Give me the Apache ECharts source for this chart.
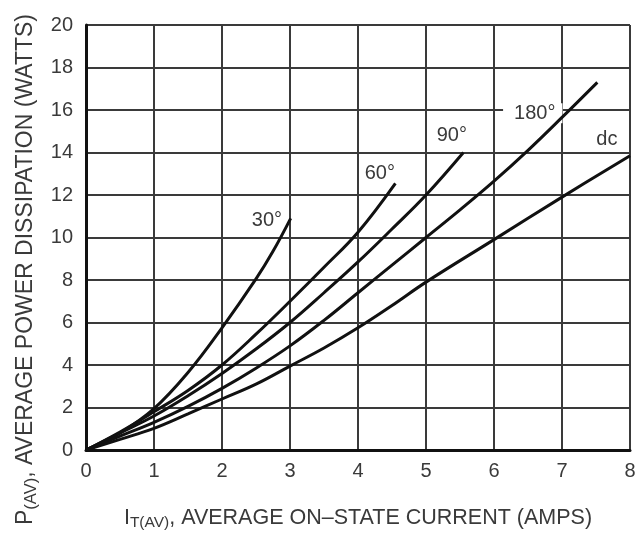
<!DOCTYPE html>
<html>
<head>
<meta charset="utf-8">
<script src="https://cdn.jsdelivr.net/npm/echarts@6/dist/echarts.min.js"></script>
<style>html,body{margin:0;padding:0;background:#fff}#c{width:637px;height:540px}</style>
</head>
<body>
<div id="c"></div>
<script>
// ---- data ----
const xTickLabels = ['0','1','2','3','4','5','6','7','8'];
const yTickLabels = ['0','2','4','6','8','10','12','14','16','18','20'];

const seriesNames = ['30°','60°','90°','180°','dc'];

const i30  = [0, 0.5, 1, 1.5, 2, 2.5, 2.75, 3.01];
const p30  = [0, 0.8, 1.95, 3.65, 5.75, 8.05, 9.35, 10.9];

const i60  = [0, 0.5, 1, 1.5, 2, 2.5, 3, 3.5, 4, 4.55];
const p60  = [0, 0.85, 1.8, 2.8, 4.0, 5.45, 7.0, 8.6, 10.25, 12.55];

const i90  = [0, 0.5, 1, 1.5, 2, 2.5, 3, 3.5, 4, 4.5, 5, 5.55];
const p90  = [0, 0.8, 1.6, 2.55, 3.6, 4.75, 6.0, 7.4, 8.85, 10.4, 12.0, 14.0];

const i180 = [0, 0.5, 1, 1.5, 2, 2.5, 3, 3.5, 4, 4.5, 5, 5.5, 6, 6.5, 7, 7.52];
const p180 = [0, 0.65, 1.3, 2.05, 2.9, 3.85, 4.9, 6.1, 7.4, 8.7, 10.0, 11.3, 12.65, 14.1, 15.65, 17.3];

const idc  = [0, 0.5, 1, 1.5, 2, 2.5, 3, 3.5, 4, 4.5, 5, 6, 7, 8];
const pdc  = [0, 0.5, 1.02, 1.7, 2.4, 3.1, 3.95, 4.8, 5.75, 6.8, 7.9, 9.9, 11.9, 13.85];

const curveX = [i30, i60, i90, i180, idc];
const curveY = [p30, p60, p90, p180, pdc];

// ---- chart ----
const FONT = '"Liberation Sans", Arial, sans-serif';
const TXT = '#3a3a3a';
const GRIDC = '#3a3a3a';

const chart = echarts.init(document.getElementById('c'), null, {renderer: 'canvas'});

const series = curveX.map((xs, k) => ({
  name: seriesNames[k],
  type: 'line',
  data: xs.map((x, i) => [x, curveY[k][i]]),
  smooth: 0.4,
  symbol: 'none',
  lineStyle: {color: '#111', width: 3},
  z: 5,
  animation: false
}));

const richX = {
  m: {fontSize: 21.5, fontFamily: FONT, color: TXT, lineHeight: 26},
  s: {fontSize: 15.5, fontFamily: FONT, color: TXT, lineHeight: 13, verticalAlign: 'bottom'}
};
const richY = {
  m: {fontSize: 23, fontFamily: FONT, color: TXT, lineHeight: 28},
  s: {fontSize: 16.5, fontFamily: FONT, color: TXT, lineHeight: 14, verticalAlign: 'bottom'}
};

chart.setOption({
  animation: false,
  backgroundColor: '#fff',
  grid: {left: 86, right: 7, top: 25, bottom: 90, show: false, containLabel: false, outerBoundsMode: 'none'},
  xAxis: {
    type: 'value', min: 0, max: 8, interval: 1,
    axisLine: {show: true, onZero: false, lineStyle: {color: '#111', width: 3}},
    axisTick: {show: false},
    splitLine: {show: true, lineStyle: {color: GRIDC, width: 2}},
    axisLabel: {margin: 11, fontSize: 20, color: TXT, fontFamily: FONT,
      formatter: v => xTickLabels[Math.round(v)]},
    name: '{m|I}{s|T(AV)}{m|, AVERAGE ON–STATE CURRENT (AMPS)}',
    nameLocation: 'middle', nameGap: 55,
    nameTextStyle: {rich: richX}
  },
  yAxis: {
    type: 'value', min: 0, max: 20, interval: 2,
    axisLine: {show: true, onZero: false, lineStyle: {color: '#111', width: 3}},
    axisTick: {show: false},
    splitLine: {show: true, lineStyle: {color: GRIDC, width: 2}},
    axisLabel: {margin: 13, fontSize: 20, color: TXT, fontFamily: FONT,
      formatter: v => yTickLabels[Math.round(v / 2)]},
    name: '{m|P}{s|(AV)}{m|, AVERAGE POWER DISSIPATION (WATTS)}',
    nameLocation: 'middle', nameGap: 44, nameRotate: 90,
    nameTextStyle: {rich: richY, padding: [0, 64, 0, 0]}
  },
  series: series
});

// curve labels anchored in data coordinates
const curveLabels = [
  {text: '30°',  at: [2.66, 10.8]},
  {text: '60°',  at: [4.32, 13.0]},
  {text: '90°',  at: [5.38, 14.8]},
  {text: '180°', at: [6.57, 15.85], bg: true},
  {text: 'dc',   at: [7.66, 14.6]}
];
chart.setOption({
  graphic: curveLabels.map(l => {
    const p = chart.convertToPixel({gridIndex: 0}, l.at);
    return {
      type: 'text', x: p[0], y: p[1], z: 4,
      style: {
        text: l.text, fill: TXT, fontSize: 20, fontFamily: FONT,
        align: 'center', verticalAlign: 'middle',
        textAlign: 'center', textVerticalAlign: 'middle',
        backgroundColor: l.bg ? '#fff' : 'transparent',
        padding: l.bg ? [0, 7, 0, 11] : 0
      }
    };
  })
});
</script>
</body>
</html>
